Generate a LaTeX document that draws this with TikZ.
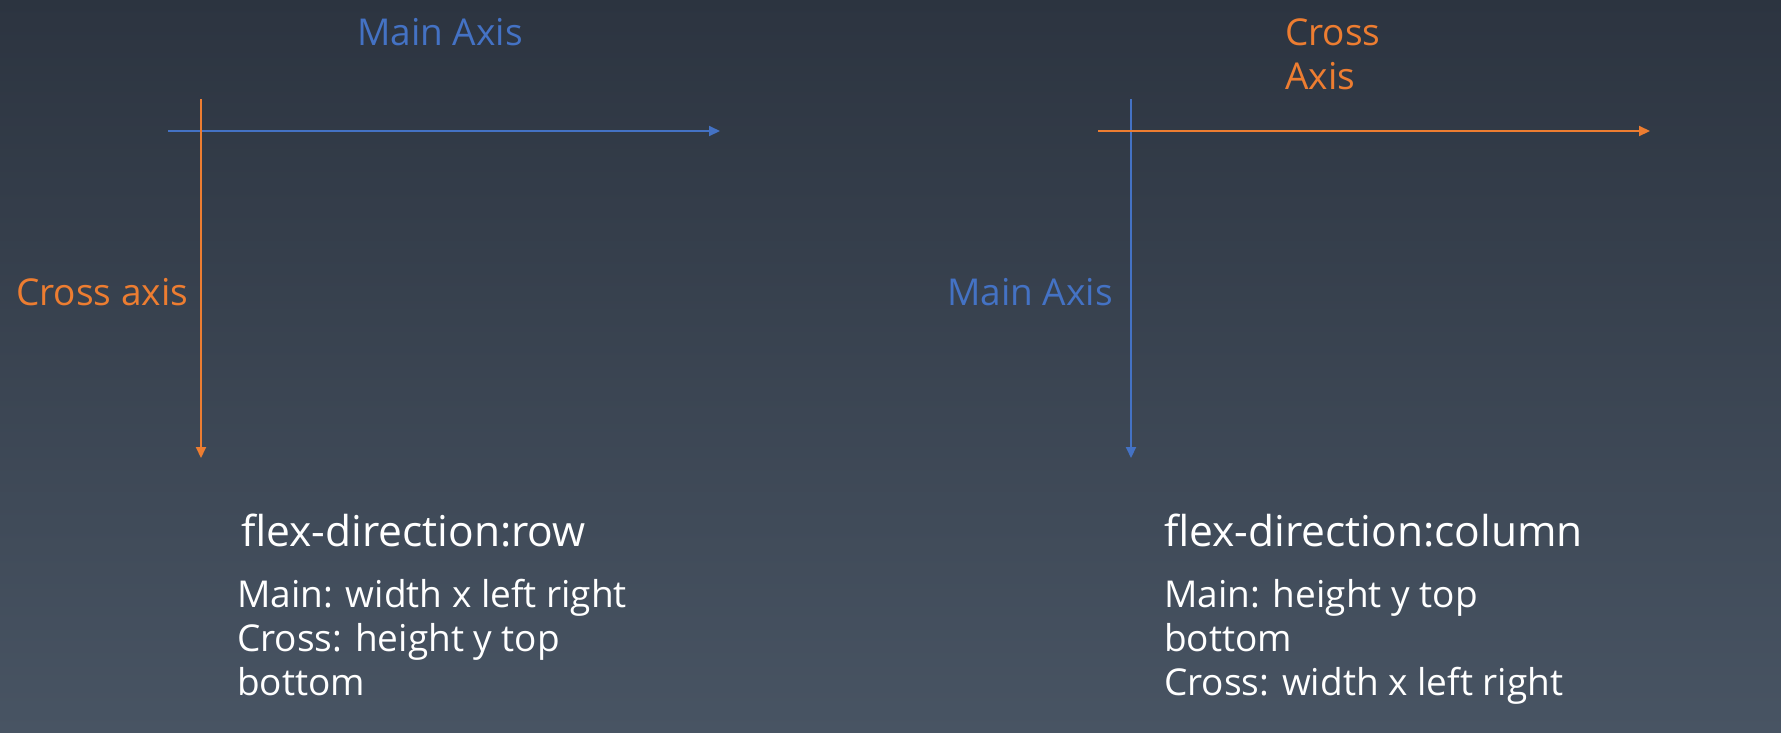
\documentclass[tikz,border=0pt]{standalone}
\usepackage{fontspec}
\setmainfont{Open Sans}
\usetikzlibrary{arrows.meta}

\definecolor{bgtop}{HTML}{2C3440}
\definecolor{bgbottom}{HTML}{485463}
\definecolor{axisblue}{HTML}{4472C4}
\definecolor{axisorange}{HTML}{ED7D31}

\begin{document}
\begin{tikzpicture}
		[x=1pt,y=-1pt,every node/.style={inner sep=0pt,
		anchor=base west,
		text=white,
		font=\fontsize{37}{44}\selectfont},
		title/.style={font=\fontsize{42.5}{48}\selectfont},
		axis/.style={line width=2pt,
		-{Triangle[length=11pt,width=10pt]}}]
	\shade[top color=bgtop,bottom color=bgbottom] (0,0) rectangle (1781,732);
	\useasboundingbox (0,0) rectangle (1781,732);

		%% row
		\coordinate (r0) at (168,131);
		\coordinate (r1) at (720,131);
		\coordinate (r2) at (201,99);
		\coordinate (r3) at (201,458);
		\node [text=axisblue, anchor=base] (rmain) at (440,45) {Main Axis};
		\node [text=axisorange] (rcross) at (16,305) {Cross axis};
		\node [title] (rtitle) at (241,546) {flex-direction:row};
		\node (rl1) at (237,607) {Main: width x left right};
		\node (rl2) at (237,651) {Cross: height y top};
		\node (rl3) at (237,695) {bottom};

		%% column
		\coordinate (c0) at (1098,131);
		\coordinate (c1) at (1650,131);
		\coordinate (c2) at (1131,99);
		\coordinate (c3) at (1131,458);
		\node [text=axisorange] (ccross) at (1285,45) {Cross};
		\node [text=axisorange] (caxis) at (1285,89) {Axis};
		\node [text=axisblue, anchor=base east] (cmain) at (1113,305) {Main Axis};
		\node [title] (ctitle) at (1164,546) {flex-direction:column};
		\node (cl1) at (1164,607) {Main: height y top};
		\node (cl2) at (1164,651) {bottom};
		\node (cl3) at (1164,695) {Cross: width x left right};

		\foreach \from/\to in {r0/r1,c2/c3}
		\draw[axis, draw=axisblue, fill=axisblue] (\from) -- (\to);

		\foreach \from/\to in {r2/r3,c0/c1}
		\draw[axis, draw=axisorange, fill=axisorange] (\from) -- (\to);
\end{tikzpicture}
\end{document}
